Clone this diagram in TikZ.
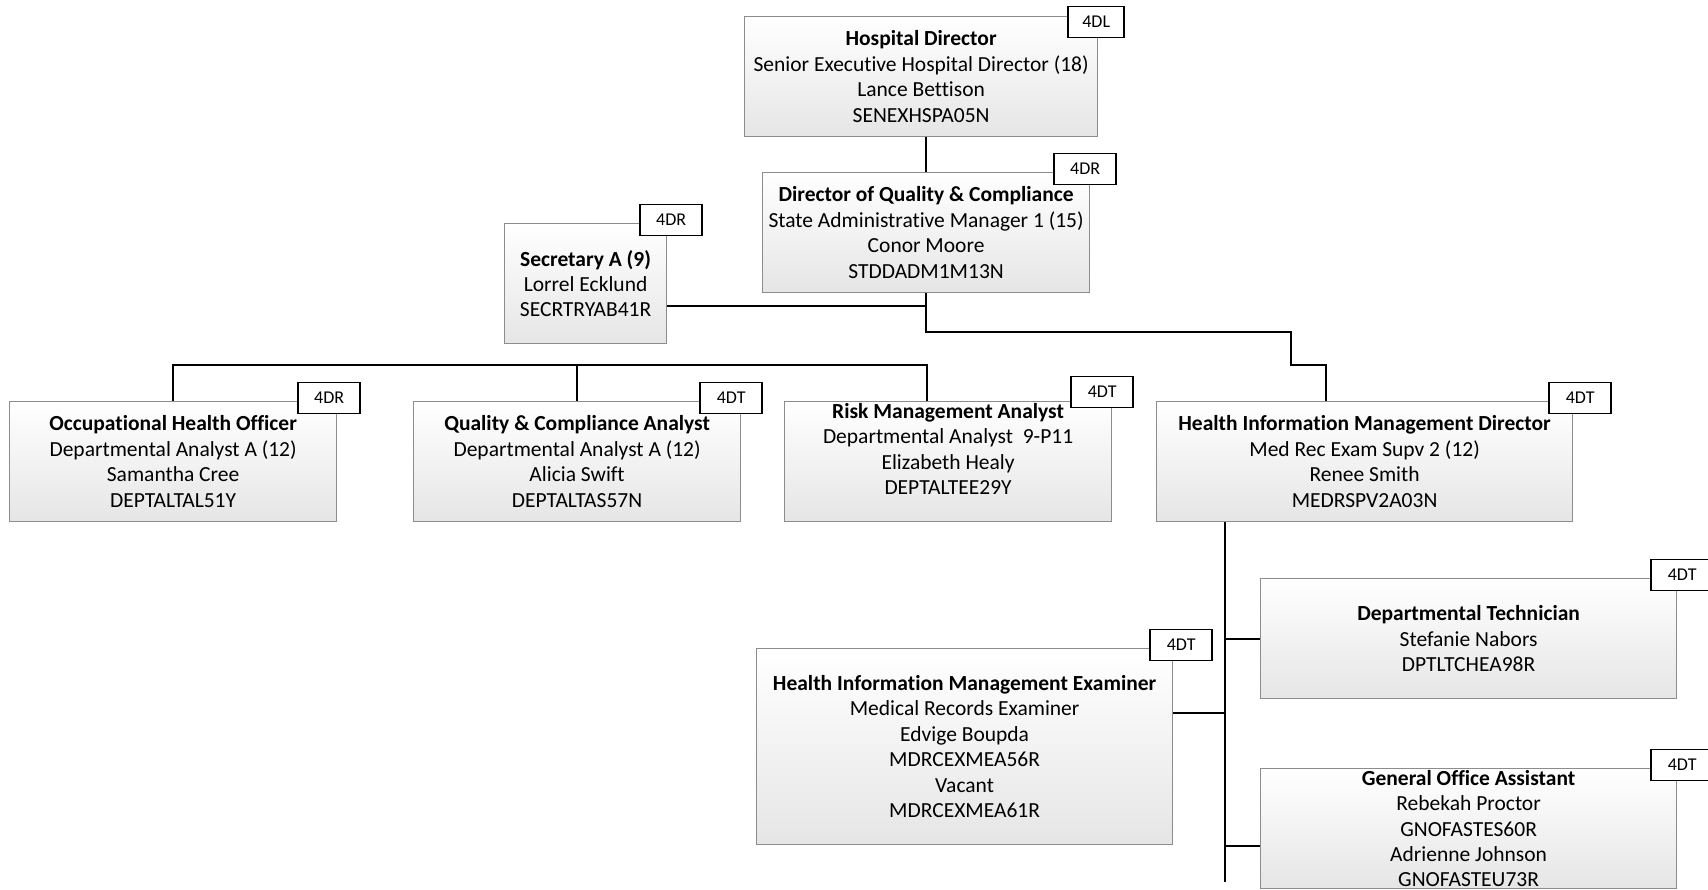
\documentclass[tikz,border=0pt]{standalone}
\usepackage{fontspec}
\setmainfont[Ligatures=NoCommon]{Carlito}

\begin{document}
\begin{tikzpicture}[
  x=1pt, y=-1pt,
  post/.style={
    draw=black!45, line width=1.2pt, top color=white, bottom color=black!10,
    minimum width=#1, minimum height=120pt, inner sep=0pt, anchor=north west
  },
  ptext/.style={
    font=\fontsize{21.5}{25.4}\selectfont, align=center, text=black
  },
  grade/.style={
    draw=black, fill=white, line width=1.6pt, minimum width=62pt,
    minimum height=31pt, inner sep=0pt, font=\fontsize{18}{21}\selectfont
  },
  link/.style={
    draw=black, line width=2pt
  }
]
\useasboundingbox (0,0) rectangle (1708,890);

% Boxes
\node[post=353pt] (hd) at (744,16) {};
\node[ptext] (hdtx) at (hd.center) {\textbf{Hospital Director}\\Senior Executive Hospital Director (18)\\Lance Bettison\\SENEXHSPA05N};

\node[post=327pt] (dqc) at (762,172) {};
\node[ptext] (dqctx) at (dqc.center) {\textbf{Director of Quality \& Compliance}\\State Administrative Manager 1 (15)\\Conor Moore\\STDDADM1M13N};

\node[post=162pt] (sec) at (504,223) {};
\node[ptext] (sectx) at (sec.center) {\textbf{Secretary A (9)}\\Lorrel Ecklund\\SECRTRYAB41R};

\node[post=327pt] (oho) at (9,401) {};
\node[ptext] (ohotx) at (oho.center) {\textbf{Occupational Health Officer}\\Departmental Analyst A (12)\\Samantha Cree\\DEPTALTAL51Y};

\node[post=327pt] (qca) at (413,401) {};
\node[ptext] (qcatx) at (qca.center) {\textbf{Quality \& Compliance Analyst}\\Departmental Analyst A (12)\\Alicia Swift\\DEPTALTAS57N};

\node[post=327pt] (rma) at (784,401) {};
\node[ptext] (rmatx) at ([yshift=12.5pt]rma.center) {\textbf{Risk Management Analyst}\\Departmental Analyst\ \ 9-P11\\Elizabeth Healy\\DEPTALTEE29Y};

\node[post=416pt] (himd) at (1156,401) {};
\node[ptext] (himdtx) at (himd.center) {\textbf{Health Information Management Director}\\Med Rec Exam Supv 2 (12)\\Renee Smith\\MEDRSPV2A03N};

\node[post=416pt] (dt) at (1260,578) {};
\node[ptext] (dttx) at (dt.center) {\textbf{Departmental Technician}\\Stefanie Nabors\\DPTLTCHEA98R};

\node[post=416pt, minimum height=196pt] (hime) at (756,648) {};
\node[ptext] (himetx) at (hime.center) {\textbf{Health Information Management Examiner}\\Medical Records Examiner\\Edvige Boupda\\MDRCEXMEA56R\\Vacant\\MDRCEXMEA61R};

\node[post=416pt] (goa) at (1260,768) {};
\node[ptext] (goatx) at (goa.center) {\textbf{General Office Assistant}\\Rebekah Proctor\\GNOFASTES60R\\Adrienne Johnson\\GNOFASTEU73R};

% Grade tags
\node[grade, minimum width=56pt] (hdtag) at ([xshift=-2pt,yshift=-6pt]hd.north east) {4DL};
\node[grade] (dqctag) at ([xshift=-5pt,yshift=3pt]dqc.north east) {4DR};
\node[grade] (sectag) at ([xshift=4pt,yshift=3pt]sec.north east) {4DR};
\node[grade] (ohotag) at ([xshift=-8pt,yshift=3pt]oho.north east) {4DR};
\node[grade] (qcatag) at ([xshift=-10pt,yshift=3pt]qca.north east) {4DT};
\node[grade] (rmatag) at ([xshift=-10pt,yshift=9pt]rma.north east) {4DT};
\node[grade] (himdtag) at ([xshift=7pt,yshift=3pt]himd.north east) {4DT};
\node[grade] (dttag) at ([xshift=5pt,yshift=3pt]dt.north east) {4DT};
\node[grade] (himetag) at ([xshift=8pt,yshift=3pt]hime.north east) {4DT};
\node[grade] (goatag) at ([xshift=5pt,yshift=3pt]goa.north east) {4DT};

% Connectors
\coordinate (jog) at (1291,365);
\coordinate (bus) at (927,365);
\coordinate (secjoin) at ([yshift=-22.5pt]sec.east);
\coordinate (trunk) at (1225,882);

\draw[link] (dqc.north) -- (dqc.north |- hd.south);
\draw[link] (dqc.south) -- ++(0,39) -| (jog) -| ([xshift=170pt]himd.north west);
\draw[link] (secjoin) -- (secjoin -| dqc.south);

\draw[link] (oho.north) |- (bus) -- (bus |- rma.north);
\draw[link] (qca.north) -- (qca.north |- bus);

\draw[link] (trunk |- himd.south) -- (trunk);
\draw[link] (dt.west) -- (dt.west -| trunk);
\draw[link] ([yshift=34pt]hime.east) -- ([yshift=34pt]hime.east -| trunk);
\draw[link] ([yshift=-17pt]goa.west) -- ([yshift=-17pt]goa.west -| trunk);

\end{tikzpicture}
\end{document}
